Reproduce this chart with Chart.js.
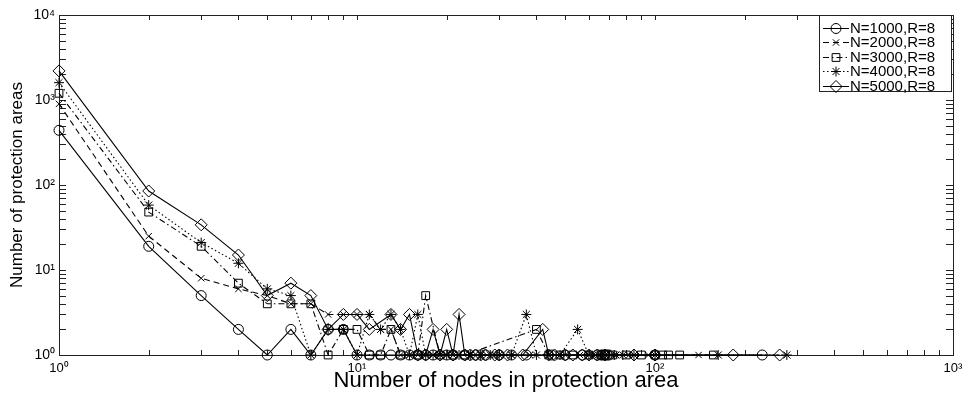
<!DOCTYPE html>
<html>
<head>
<meta charset="utf-8">
<script src="https://cdn.jsdelivr.net/npm/chart.js@4.4.1/dist/chart.umd.min.js"></script>
<style>
  html, body { margin: 0; padding: 0; background: #fff; }
  #wrap { width: 970px; height: 397px; }
</style>
</head>
<body>
<div id="wrap"><canvas id="c" width="970" height="397"></canvas></div>
<script>
// ---- data ----
const seriesLabels = ["N=1000,R=8", "N=2000,R=8", "N=3000,R=8", "N=4000,R=8", "N=5000,R=8"];

const x1000 = [1,2,3,4,5,6,7,8,9,10,11,12,13,14,15,16,17,18,20,21,23,25,27,30,33,37,45,50,57,64,66,67,68,69,70,100,229];
const y1000 = [440,19,5,2,1,2,1,2,2,1,1,1,1,1,1,1,1,1,1,1,1,1,1,1,1,1,1,1,1,1,1,1,1,1,1,1,1];

const x2000 = [1,2,3,4,5,6,7,8,9,10,11,12,13,14,15,16,17,19,21,24,26,29,33,38,44,50,56,62,68,74,82,95,140];
const y2000 = [900,25,8,6,5,4,4,3,3,3,3,2,2,1,1,1,1,1,1,1,1,1,1,1,1,1,1,1,1,1,1,1,1];

const x3000 = [1,2,3,4,5,6,7,8,9,10,11,12,13,14,16,17,19,21,23,40,44,48,53,60,66,72,80,90,100,106,111,121,157];
const y3000 = [1200,48,19,7,4,4,4,1,2,2,1,1,2,1,1,5,1,1,1,2,1,1,1,1,1,1,1,1,1,1,1,1,1];

const x4000 = [1,2,3,4,5,6,7,8,9,10,11,12,13,14,15,16,17,18,19,20,22,24,26,28,30,33,37,40,44,48,55,60,66,73,78,85,100,163,277];
const y4000 = [1600,58,21,12,6,5,1,2,2,1,3,2,3,2,1,3,1,1,1,1,1,1,1,1,1,1,3,1,1,1,2,1,1,1,1,1,1,1,1];

const x5000 = [1,2,3,4,5,6,7,8,9,10,11,13,14,15,16,17,18,19,20,21,22,23,24,25,26,27,29,30,32,36,42,44,46,50,53,57,60,64,68,85,100,183,262];
const y5000 = [2200,85,34,15,5,7,5,2,3,3,2,3,2,3,1,1,2,1,2,1,3,1,1,1,1,1,1,1,1,1,2,1,1,1,1,1,1,1,1,1,1,1,1];

const xTickValues = [1, 10, 100, 1000];
const yTickValues = [1, 10, 100, 1000, 10000];
const xTitle = "Number of nodes in protection area";
const yTitle = "Number of protection areas";

// ---- build ----
const sup = {"0":"⁰","1":"¹","2":"²","3":"³","4":"⁴"};
function powLabel(v) {
  const e = Math.round(Math.log10(v));
  return "10" + String(e).split("").map(c => sup[c] || c).join("");
}
function pts(xs, ys) { return xs.map((x, i) => ({x: x, y: ys[i]})); }

const styles = [
  {pointStyle: 'circle',   radius: 5,   dash: []},
  {pointStyle: 'crossRot', radius: 4.5, dash: [6, 4]},
  {pointStyle: 'rect',     radius: 5.5, dash: [6, 3, 1.5, 3]},
  {pointStyle: 'star',     radius: 5,   dash: [1.5, 2.5]},
  {pointStyle: 'rectRot',  radius: 6,   dash: []}
];
const seriesData = [pts(x1000,y1000), pts(x2000,y2000), pts(x3000,y3000), pts(x4000,y4000), pts(x5000,y5000)];

const datasets = seriesData.map((d, i) => ({
  label: seriesLabels[i],
  data: d,
  borderColor: '#000',
  borderWidth: 1.1,
  borderDash: styles[i].dash,
  pointStyle: styles[i].pointStyle,
  pointRadius: styles[i].radius,
  pointHoverRadius: styles[i].radius,
  pointBorderColor: '#000',
  pointBackgroundColor: 'rgba(0,0,0,0)',
  pointBorderWidth: 1,
  tension: 0,
  fill: false,
  clip: false
}));

const FONT = "'Liberation Sans', Arial, Helvetica, sans-serif";

// frame + inward ticks (MATLAB style)
const framePlugin = {
  id: 'frame',
  beforeDatasetsDraw(chart) {
    const {ctx, chartArea: a, scales} = chart;
    const xs = scales.x, ys = scales.y;
    ctx.save();
    ctx.strokeStyle = '#222';
    ctx.lineWidth = 1;
    ctx.setLineDash([]);
    ctx.strokeRect(Math.round(a.left) + 0.5, Math.round(a.top) + 0.5,
                   Math.round(a.right - a.left), Math.round(a.bottom - a.top));
    ctx.beginPath();
    for (let d = 1; d < 1000; d *= 10) {
      for (let k = 1; k <= 9; k++) {
        const px = Math.round(xs.getPixelForValue(d * k)) + 0.5;
        ctx.moveTo(px, a.bottom); ctx.lineTo(px, a.bottom - 5);
        ctx.moveTo(px, a.top); ctx.lineTo(px, a.top + 5);
      }
    }
    for (let d = 1; d < 10000; d *= 10) {
      for (let k = 1; k <= 9; k++) {
        const py = Math.round(ys.getPixelForValue(d * k)) + 0.5;
        ctx.moveTo(a.left, py); ctx.lineTo(a.left + 7, py);
        ctx.moveTo(a.right, py); ctx.lineTo(a.right - 7, py);
      }
    }
    ctx.stroke();
    ctx.restore();
  }
};

// legend box in the top-right corner
const legendPlugin = {
  id: 'boxLegend',
  afterDatasetsDraw(chart) {
    const {ctx, chartArea: a} = chart;
    const boxR = a.right - 2, boxL = boxR - 132, boxT = a.top, boxB = a.top + 76;
    ctx.save();
    ctx.fillStyle = '#fff';
    ctx.fillRect(boxL, boxT, boxR - boxL, boxB - boxT);
    ctx.strokeStyle = '#222';
    ctx.lineWidth = 1;
    ctx.setLineDash([]);
    ctx.strokeRect(Math.round(boxL) + 0.5, Math.round(boxT) + 0.5, Math.round(boxR - boxL), Math.round(boxB - boxT));
    chart.data.datasets.forEach((ds, i) => {
      const y = Math.round(boxT + 12.5 + i * 14.5) + 0.5;
      const l0 = boxL + 4, l1 = boxL + 30, mx = (l0 + l1) / 2;
      ctx.strokeStyle = '#000';
      ctx.lineWidth = 1;
      ctx.setLineDash(ds.borderDash || []);
      ctx.beginPath(); ctx.moveTo(l0, y); ctx.lineTo(l1, y); ctx.stroke();
      ctx.setLineDash([]);
      // clear behind the marker so the line doesn't show inside it
      ctx.fillStyle = 'rgba(0,0,0,0)';
      ctx.strokeStyle = '#000';
      Chart.helpers.drawPoint(ctx, {pointStyle: ds.pointStyle, radius: ds.pointRadius, rotation: 0, borderWidth: 1}, mx, y);
      ctx.fillStyle = '#000';
      ctx.font = "15px " + FONT;
      ctx.textBaseline = 'middle';
      ctx.textAlign = 'left';
      ctx.fillText(ds.label, l1 + 1, y);
    });
    ctx.restore();
  }
};

new Chart(document.getElementById('c'), {
  type: 'line',
  data: { datasets: datasets },
  options: {
    responsive: false,
    animation: false,
    devicePixelRatio: 1,
    layout: { padding: { left: 0, right: 17, top: 15, bottom: 0 } },
    plugins: { legend: { display: false }, tooltip: { enabled: false } },
    scales: {
      x: {
        type: 'logarithmic',
        position: 'bottom',
        min: 1, max: 1000,
        grid: { display: false, drawTicks: false },
        border: { display: false },
        afterBuildTicks(scale) { scale.ticks = xTickValues.map(v => ({value: v, major: true})); },
        afterFit(scale) { scale.height = 42; },
        ticks: {
          autoSkip: false, maxRotation: 0, padding: 6, color: '#000',
          font: { family: FONT, size: 13 },
          callback: (v) => powLabel(v)
        },
        title: { display: true, text: xTitle, color: '#000',
                 font: { family: FONT, size: 22 }, padding: { top: 0, bottom: 3 } }
      },
      y: {
        type: 'logarithmic',
        position: 'left',
        min: 1, max: 10000,
        grid: { display: false, drawTicks: false },
        border: { display: false },
        afterBuildTicks(scale) { scale.ticks = yTickValues.map(v => ({value: v, major: true})); },
        afterFit(scale) { scale.width = 59; },
        ticks: {
          autoSkip: false, padding: 4, color: '#000',
          font: { family: FONT, size: 14 },
          callback: (v) => powLabel(v)
        },
        title: { display: true, text: yTitle, color: '#000',
                 font: { family: FONT, size: 17 }, padding: { top: 7, bottom: 0 } }
      }
    }
  },
  plugins: [framePlugin, legendPlugin]
});
</script>
</body>
</html>
